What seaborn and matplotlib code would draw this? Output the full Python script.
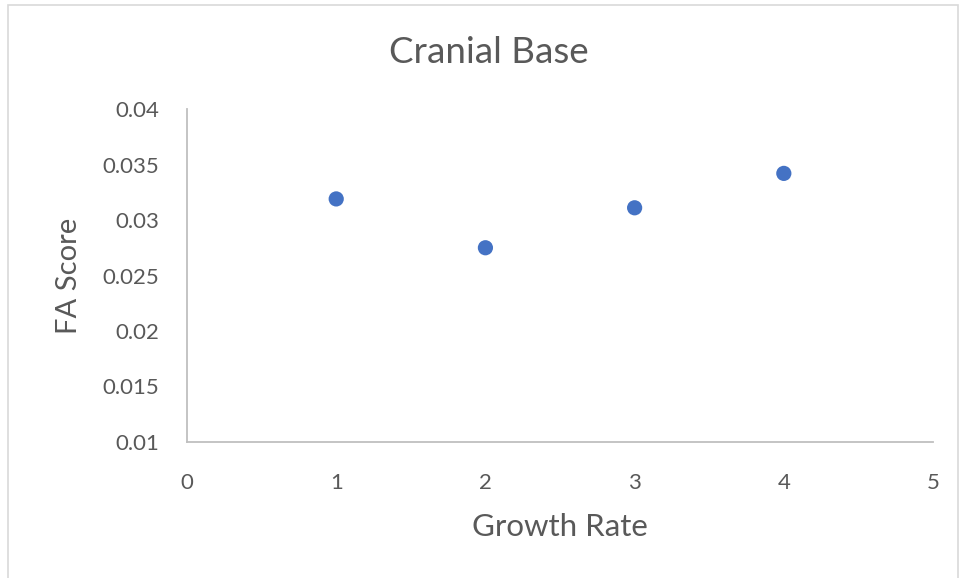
import matplotlib
matplotlib.use("Agg")
import matplotlib.pyplot as plt
from matplotlib.patches import Rectangle
import seaborn as sns
import pandas as pd

growth_rate = [1, 2, 3, 4]
fa_score = [0.0319, 0.0275, 0.0311, 0.0342]
x_ticks = [0, 1, 2, 3, 4, 5]
y_ticks = [0.01, 0.015, 0.02, 0.025, 0.03, 0.035, 0.04]
y_tick_labels = ["0.01", "0.015", "0.02", "0.025", "0.03", "0.035", "0.04"]

sns.set_theme(style="white")
plt.rcParams["font.family"] = ["Lato", "DejaVu Sans"]

text_color = "#595959"
df = pd.DataFrame({"Growth Rate": growth_rate, "FA Score": fa_score})

fig = plt.figure(figsize=(9.6, 5.78), dpi=100)
ax = fig.add_axes([0.1948, 0.2353, 0.9719 - 0.1948, 0.8114 - 0.2353])

sns.scatterplot(data=df, x="Growth Rate", y="FA Score", ax=ax,
                color="#4472C4", s=120, edgecolor="none", linewidth=0, zorder=3)

ax.set_xlim(0, 5)
ax.set_ylim(0.01, 0.04)
ax.set_xticks(x_ticks)
ax.set_xticklabels([str(v) for v in x_ticks])
ax.set_yticks(y_ticks)
ax.set_yticklabels(y_tick_labels)
ax.tick_params(axis="both", length=0, labelsize=16, labelcolor=text_color)
ax.tick_params(axis="x", pad=22)
ax.tick_params(axis="y", pad=20)

for side in ("top", "right"):
    ax.spines[side].set_visible(False)
for side in ("left", "bottom"):
    ax.spines[side].set_color("#bfbfbf")
    ax.spines[side].set_linewidth(1.3)

ax.set_xlabel("Growth Rate", fontsize=22.5, color=text_color, labelpad=15)
ax.set_ylabel("FA Score", fontsize=21, color=text_color, labelpad=15)

fig.text(0.509, 0.91, "Cranial Base", ha="center", va="center",
         fontsize=26.5, color=text_color)

# chart-area frame
fig.patches.append(Rectangle((8 / 960, -0.01), 950 / 960, 1 - 5 / 578 + 0.01,
                             transform=fig.transFigure, fill=False,
                             edgecolor="#d9d9d9", linewidth=1.2))

fig.savefig("out.png", dpi=100)
